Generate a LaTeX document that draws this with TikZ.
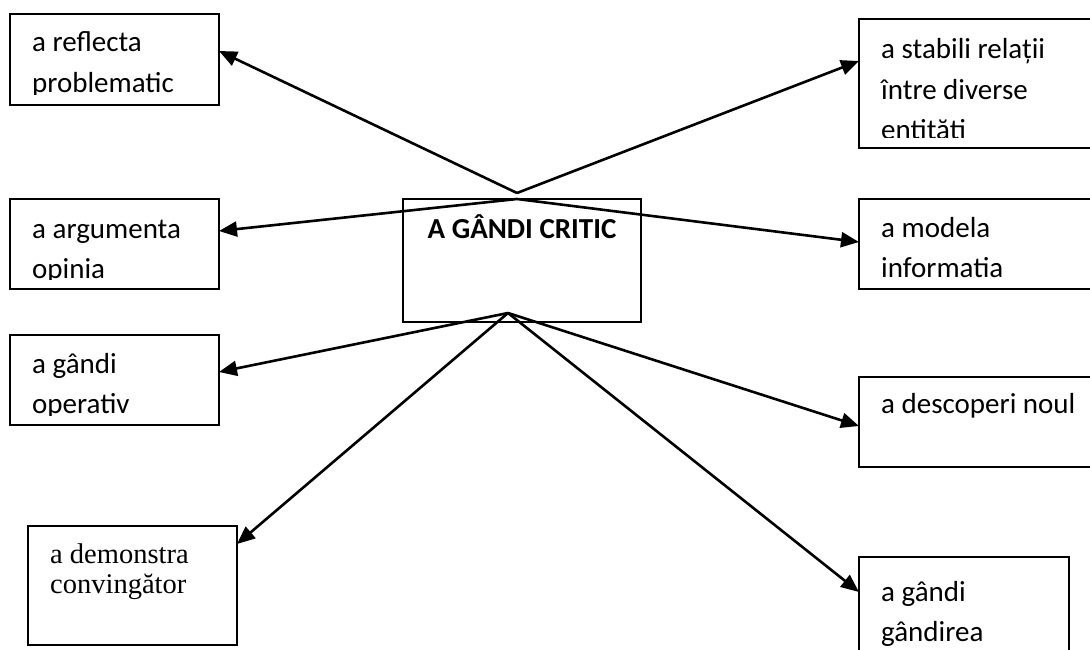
\documentclass[tikz,border=0pt]{standalone}
\usepackage{fontspec}
\setmainfont{Carlito}
\newfontfamily\boxserif{Liberation Serif}
\usetikzlibrary{arrows.meta}

% stacked lines whose baseline is that of the first line
\newcommand\stack[1]{\vtop{\halign{##\hfil\cr#1\crcr}}}

% framed text box: name, left, top, right, bottom, baseline offset, lines
\newcommand\labelbox[7]{%
  \pgfmathsetlengthmacro\bw{(#4-#2)*1pt}%
  \pgfmathsetlengthmacro\bh{(#5-#3)*1pt}%
  \node[frame, minimum width=\bw, minimum height=\bh] (#1) at (#2,#3) {};
  \begin{scope}
    \clip (#2,#3) rectangle (#4,#5-10);
    \node[boxtext] (#1-text) at (#2+22,#3+#6) {\stack{#7}};
  \end{scope}}

\begin{document}
\begin{tikzpicture}[x=1pt,y=-1pt,
  frame/.style={draw=black, line width=1.6pt, rectangle, inner sep=0pt, outer sep=0pt, anchor=north west},
  boxtext/.style={anchor=base west, inner sep=0pt, font=\fontsize{29}{40.5}\selectfont},
  link/.style={line width=2.6pt, -{Triangle[length=18pt,width=15pt]}}]

\useasboundingbox (0,0) rectangle (1090,650);

% left column
\labelbox{refl}{10}{14}{219}{105}{38}{a reflecta\cr problematic}
\labelbox{arg}{10}{199}{219}{289}{39}{a argumenta\cr opinia}
\labelbox{oper}{10}{335}{219}{425}{38}{a gândi\cr operativ}

\node[frame, minimum width=209pt, minimum height=119pt] (demo) at (28,526) {};
\node[anchor=base west, inner sep=0pt,
      font=\boxserif\fontsize{28.5}{30}\selectfont] (demo-text) at (50,563) {\stack{a demonstra\cr convingător}};

% right column
\labelbox{stab}{859}{19}{1100}{148}{40}{a stabili relații\cr între diverse\cr entităti}
\labelbox{mod}{859}{199}{1100}{289}{38}{a modela\cr informatia}
\labelbox{desc}{859}{377}{1100}{467}{36}{a descoperi noul}
\labelbox{gand}{859}{557}{1069}{700}{44}{a gândi\cr gândirea}

% central concept
\node[frame, minimum width=238pt, minimum height=123pt] (core) at (403,199) {};
\node[anchor=base, inner sep=0pt, font=\fontsize{29}{35}\selectfont\bfseries] (core-text) at (522,238) {A GÂNDI CRITIC};

% connector origins
\coordinate (apexV) at (517,193);
\coordinate (apexA) at (517,199);
\coordinate (apexB) at (508,313);

\draw[link] (apexV) -- ([yshift=-37pt]refl.north east);
\draw[link] (apexV) -- ([yshift=-42pt]stab.north west);
\draw[link] (apexA) -- ([yshift=-32pt]arg.north east);
\draw[link] (apexA) -- ([yshift=-43pt]mod.north west);
\draw[link] (apexB) -- ([yshift=-37pt]oper.north east);
\draw[link] (apexB) -- ([yshift=-49pt]desc.north west);
\draw[link] (apexB) -- ([yshift=-18pt]demo.north east);
\draw[link] (apexB) -- ([yshift=-35pt]gand.north west);
\end{tikzpicture}
\end{document}
